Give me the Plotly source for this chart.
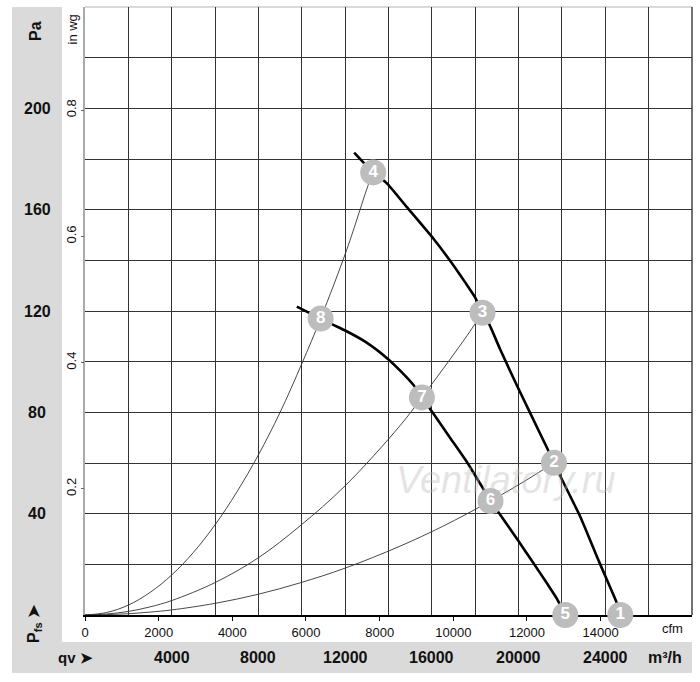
import plotly.graph_objects as go

# ---------------- data ----------------
# fan curve, higher speed (points 4-3-2-1); q in m3/h, p in Pa
curve_a_q = [12415, 13292, 13925, 14848, 16076, 16999, 17538, 18000, 18337, 18660,
             19154, 19924, 21309, 21632, 22001, 22846, 23617, 24078, 24540, 24692]
curve_a_p = [182.5, 174.7, 170.4, 161.0, 148.5, 138.0, 131.3, 125.3, 119.3, 114.5,
             104.8, 90.6, 66.0, 60.1, 53.5, 38.8, 23.0, 13.8, 4.6, 0]

# fan curve, lower speed (points 8-7-6-5)
curve_b_q = [9771, 10869, 11460, 12000, 12923, 13998, 14617, 15153, 15540, 16076,
             16846, 17617, 18231, 18706, 19154, 19924, 20691, 21309, 21771, 22154]
curve_b_p = [121.7, 117.0, 114.5, 112.3, 107.9, 100.9, 95.8, 90.8, 85.9, 79.4,
             69.9, 60.4, 51.8, 45.0, 39.6, 30.1, 20.4, 12.5, 6.4, 0]

# system curves (thin)
sys1_q = [0, 1000, 1998, 3000, 4001, 5000, 6000, 7000, 7998, 9000, 10001, 10869, 12078, 13075, 13292]
sys1_p = [0, 1.0, 3.9, 8.9, 15.8, 24.7, 35.6, 48.5, 63.2, 80.0, 99.2, 117.0, 144.3, 170.0, 174.7]

sys2_q = [0, 1000, 1998, 3000, 4001, 6000, 7998, 9923, 12000, 14538, 15540, 16846, 17617, 18337]
sys2_p = [0, 0.4, 1.4, 3.2, 5.7, 12.8, 22.6, 35.2, 51.0, 74.8, 85.9, 101.0, 110.2, 119.3]

sys3_q = [0, 1000, 1998, 3000, 4001, 6000, 7998, 9923, 12000, 14538, 16500, 18706, 20386, 21632]
sys3_p = [0, 0.15, 0.5, 1.15, 2.0, 4.6, 8.2, 12.7, 18.5, 27.2, 35.0, 45.0, 53.4, 60.1]

# operating points
op_labels = ["1", "2", "3", "4", "5", "6", "7", "8"]
op_q = [24692, 21632, 18337, 13292, 22154, 18706, 15540, 10869]
op_p = [0, 60.1, 119.3, 174.7, 0, 45.0, 85.9, 117.0]

# axes / tick labels
q_max = 28000          # m3/h
p_max = 240            # Pa
pa_ticks = [40, 80, 120, 160, 200]
qv_ticks = [4000, 8000, 12000, 16000, 20000, 24000]
cfm_ticks = [0, 2000, 4000, 6000, 8000, 10000, 12000, 14000]
inwg_ticks = [0.2, 0.4, 0.6, 0.8]
M3H_PER_CFM = 1.69901
PA_PER_INWG = 249.089

FONT = "Liberation Sans, Arial, sans-serif"
PANEL = "#dadada"
GRID = "#333333"

fig = go.Figure()

for q, p in [(sys1_q, sys1_p), (sys2_q, sys2_p), (sys3_q, sys3_p)]:
    fig.add_trace(go.Scatter(x=q, y=p, mode="lines",
                             line=dict(color="#333333", width=0.9, shape="spline", smoothing=1.0),
                             hoverinfo="skip", showlegend=False))

for q, p in [(curve_a_q, curve_a_p), (curve_b_q, curve_b_p)]:
    fig.add_trace(go.Scatter(x=q, y=p, mode="lines",
                             line=dict(color="#000000", width=2.6, shape="spline", smoothing=0.6),
                             hoverinfo="skip", showlegend=False))

fig.add_trace(go.Scatter(x=op_q, y=op_p, mode="markers+text", text=op_labels,
                         textposition="middle center",
                         textfont=dict(family=FONT, size=17, color="white", weight="bold"),
                         marker=dict(size=26, color="#bdbdbd", line=dict(width=0)),
                         cliponaxis=False, hoverinfo="skip", showlegend=False))

# invisible trace to carry the secondary (cfm / in wg) axes
fig.add_trace(go.Scatter(x=[0], y=[0], xaxis="x2", yaxis="y2", mode="markers",
                         marker=dict(opacity=0), hoverinfo="skip", showlegend=False))

shapes = [
    # left grey band
    dict(type="rect", xref="paper", yref="paper", x0=-0.1203, x1=-0.0379, y0=-0.0954, y1=1.0,
         fillcolor=PANEL, line=dict(width=0), layer="below"),
    # bottom grey band
    dict(type="rect", xref="paper", yref="paper", x0=-0.1203, x1=1.0, y0=-0.0954, y1=-0.0444,
         fillcolor=PANEL, line=dict(width=0), layer="below"),
    # top border
    dict(type="line", xref="paper", yref="paper", x0=0, x1=1, y0=1, y1=1,
         line=dict(color="#cccccc", width=1.5), layer="below"),
    # right border
    dict(type="line", xref="paper", yref="paper", x0=1, x1=1, y0=0, y1=1,
         line=dict(color="#444444", width=1.5), layer="below"),
]

annotations = []
for v in pa_ticks:
    annotations.append(dict(x=-0.079, xref="paper", y=v, yref="y", text=str(v), showarrow=False,
                            font=dict(family=FONT, size=16, color="#111", weight="bold"),
                            xanchor="center", yanchor="middle"))
for v in qv_ticks:
    annotations.append(dict(x=v, xref="x", y=-0.0695, yref="paper", text=str(v), showarrow=False,
                            font=dict(family=FONT, size=16, color="#111", weight="bold"),
                            xanchor="center", yanchor="middle"))
annotations += [
    dict(x=-0.0824, xref="paper", y=0.9605, yref="paper", text="Pa", textangle=-90, showarrow=False,
         font=dict(family=FONT, size=16, color="#111", weight="bold"), xanchor="center", yanchor="middle"),
    dict(x=-0.0824, xref="paper", y=-0.013, yref="paper", text="P<sub>fs</sub> ➤", textangle=-90,
         showarrow=False, font=dict(family=FONT, size=16, color="#111", weight="bold"),
         xanchor="center", yanchor="middle"),
    dict(x=-0.0478, xref="paper", y=-0.0695, yref="paper", text="qv ➤", showarrow=False,
         font=dict(family=FONT, size=15, color="#111", weight="bold"), xanchor="left", yanchor="middle"),
    dict(x=0.956, xref="paper", y=-0.0695, yref="paper", text="m³/h", showarrow=False,
         font=dict(family=FONT, size=16, color="#111", weight="bold"), xanchor="center", yanchor="middle"),
    dict(x=0.968, xref="paper", y=-0.0214, yref="paper", text="cfm", showarrow=False,
         font=dict(family=FONT, size=13, color="#111"), xanchor="center", yanchor="middle"),
    dict(x=-0.0214, xref="paper", y=0.963, yref="paper", text="in wg", textangle=-90, showarrow=False,
         font=dict(family=FONT, size=13, color="#111"), xanchor="center", yanchor="middle"),
    dict(x=0.694, xref="paper", y=0.222, yref="paper", text="<i>Ventilatory.ru</i>", showarrow=False,
         font=dict(family=FONT, size=38, color="rgba(185,185,185,0.4)"), xanchor="center", yanchor="middle"),
]

fig.update_layout(
    width=700, height=682,
    margin=dict(l=85, r=8, t=7, b=67, autoexpand=False),
    paper_bgcolor="white", plot_bgcolor="white",
    showlegend=False,
    shapes=shapes, annotations=annotations,
    xaxis=dict(range=[0, q_max], dtick=2000, tick0=0, showgrid=True, gridcolor=GRID, gridwidth=1,
               showticklabels=False, ticks="", zeroline=False, automargin=False,
               layer="below traces",
               showline=True, linecolor="#000000", linewidth=2, fixedrange=True),
    yaxis=dict(range=[0, p_max], dtick=20, tick0=0, showgrid=True, gridcolor=GRID, gridwidth=1,
               showticklabels=False, ticks="", zeroline=False, automargin=False,
               layer="below traces",
               showline=True, linecolor="#aaaaaa", linewidth=2, fixedrange=True),
    xaxis2=dict(overlaying="x", anchor="y", side="bottom", range=[0, q_max / M3H_PER_CFM],
                tickvals=cfm_ticks, ticktext=[str(v) for v in cfm_ticks],
                ticks="outside", ticklen=5, tickcolor="#000", tickwidth=1, automargin=False,
                layer="below traces",
                tickfont=dict(family=FONT, size=13, color="#111"),
                showgrid=False, zeroline=False, showline=False, fixedrange=True),
    yaxis2=dict(overlaying="y", anchor="x", side="left", range=[0, p_max / PA_PER_INWG],
                tickvals=inwg_ticks, ticktext=[str(v) for v in inwg_ticks],
                ticks="outside", ticklen=3, tickcolor="#666", tickwidth=1, tickangle=-90,
                automargin=False, layer="below traces",
                tickfont=dict(family=FONT, size=13, color="#111"),
                showgrid=False, zeroline=False, showline=False, fixedrange=True),
)

fig.write_html("out.html", config={"displayModeBar": False},
               post_script="document.body.style.margin='0';document.body.style.overflow='hidden';")
